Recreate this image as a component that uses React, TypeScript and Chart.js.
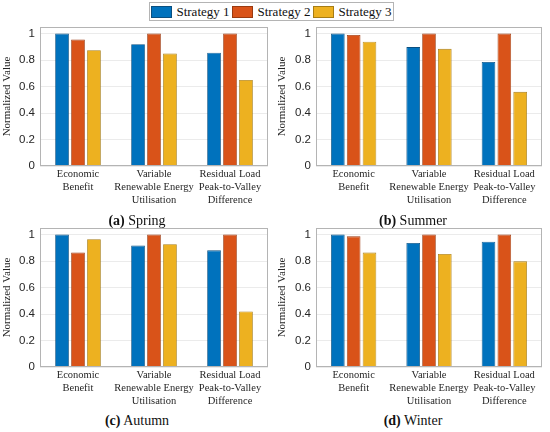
import { useEffect, useRef } from 'react';
import Chart from 'chart.js/auto';

const categories = [
  ['Economic', 'Benefit'],
  ['Variable', 'Renewable Energy', 'Utilisation'],
  ['Residual Load', 'Peak-to-Valley', 'Difference'],
];
const seriesNames = ['Strategy 1', 'Strategy 2', 'Strategy 3'];
const seriesColors = ['#0072BD', '#D95319', '#EDB120'];
const seriesEdges = ['#0a4f80', '#9a3a10', '#a67c14'];
const yTicks = [0, 0.2, 0.4, 0.6, 0.8, 1];

const springS1 = [1, 0.92, 0.856];
const springS2 = [0.955, 1, 1];
const springS3 = [0.874, 0.849, 0.65];

const summerS1 = [1, 0.898, 0.786];
const summerS2 = [0.99, 1, 1];
const summerS3 = [0.939, 0.885, 0.56];

const autumnS1 = [1, 0.917, 0.881];
const autumnS2 = [0.864, 1, 1];
const autumnS3 = [0.965, 0.927, 0.419];

const winterS1 = [1, 0.937, 0.947];
const winterS2 = [0.987, 1, 1];
const winterS3 = [0.864, 0.854, 0.798];

const SERIF = '"Liberation Serif", "Times New Roman", serif';
const SANS = '"Liberation Sans", Arial, sans-serif';

// draws the grey box round the plot area, MATLAB style
const framePlugin = {
  id: 'frame',
  afterDraw(chart: Chart) {
    const { ctx, chartArea } = chart;
    ctx.save();
    ctx.strokeStyle = '#b4b4b4';
    ctx.lineWidth = 1;
    ctx.strokeRect(
      Math.round(chartArea.left) + 0.5,
      Math.round(chartArea.top) + 0.5,
      Math.round(chartArea.right - chartArea.left) - 1,
      Math.round(chartArea.bottom - chartArea.top) - 1,
    );
    ctx.restore();
  },
};

type PanelProps = {
  values: number[][];
  left: number;
  top: number;
  axisWidth: number;
  padRight: number;
};

function Panel({ values, left, top, axisWidth, padRight }: PanelProps) {
  const canvasRef = useRef<HTMLCanvasElement>(null);

  useEffect(() => {
    const canvas = canvasRef.current;
    if (!canvas) return;
    const chart = new Chart(canvas, {
      type: 'bar',
      data: {
        labels: categories,
        datasets: values.map((v, i) => ({
          label: seriesNames[i],
          data: v,
          backgroundColor: seriesColors[i],
          borderColor: seriesEdges[i],
          borderWidth: 0.8,
          categoryPercentage: 0.63,
          barPercentage: 0.86,
        })),
      },
      options: {
        animation: false,
        responsive: true,
        maintainAspectRatio: false,
        layout: { padding: { top: 5, right: padRight, left: 0, bottom: 0 } },
        plugins: { legend: { display: false }, tooltip: { enabled: false } },
        scales: {
          x: {
            grid: { display: false, drawTicks: false },
            border: { display: false },
            ticks: {
              autoSkip: false,
              maxRotation: 0,
              padding: 2,
              color: '#262626',
              font: { family: SERIF, size: 10.5, lineHeight: 1.22 },
            },
            afterFit: (axis: any) => {
              axis.height = 42;
              axis.paddingLeft = 0;
              axis.paddingRight = 0;
            },
          },
          y: {
            min: 0,
            max: 1.05,
            afterBuildTicks: (axis: any) => {
              axis.ticks = yTicks.map((value) => ({ value }));
            },
            grid: { color: '#ebebeb', drawTicks: false },
            border: { display: false },
            ticks: {
              padding: 5,
              color: '#262626',
              font: { family: SANS, size: 11.5 },
              callback: (v: any) => String(Math.round(Number(v) * 10) / 10),
            },
            title: {
              display: true,
              text: 'Normalized Value',
              color: '#262626',
              padding: { top: 1, bottom: 0 },
              font: { family: SERIF, size: 11 },
            },
            afterFit: (axis: any) => {
              axis.width = axisWidth;
              axis.paddingTop = 0;
              axis.paddingBottom = 0;
            },
          },
        },
      },
      plugins: [framePlugin],
    });
    return () => chart.destroy();
  }, [values, axisWidth, padRight]);

  return (
    <div style={{ position: 'absolute', left, top, width: 275, height: 186 }}>
      <canvas ref={canvasRef} />
    </div>
  );
}

function Caption({ tag, name, x, y }: { tag: string; name: string; x: number; y: number }) {
  return (
    <div
      style={{
        position: 'absolute',
        left: x - 80,
        top: y - 9,
        width: 160,
        textAlign: 'center',
        fontFamily: SERIF,
        fontSize: 14,
        lineHeight: '18px',
        color: '#111',
      }}
    >
      <b>({tag})</b> {name}
    </div>
  );
}

function Legend() {
  return (
    <div
      style={{
        position: 'absolute',
        left: 149,
        top: 2,
        width: 245,
        height: 19,
        boxSizing: 'border-box',
        border: '1px solid #b4b4b4',
        background: '#fff',
        display: 'flex',
        alignItems: 'center',
        justifyContent: 'space-around',
        fontFamily: SERIF,
        fontSize: 13,
        color: '#111',
      }}
    >
      {seriesNames.map((name, i) => (
        <span key={name} style={{ display: 'flex', alignItems: 'center' }}>
          <span
            style={{
              display: 'inline-block',
              width: 19,
              height: 10,
              background: seriesColors[i],
              border: `1px solid ${seriesEdges[i]}`,
              marginRight: 4,
            }}
          />
          {name}
        </span>
      ))}
    </div>
  );
}

export default function App() {
  return (
    <div
      style={{
        position: 'fixed',
        left: 0,
        top: 0,
        width: 550,
        height: 432,
        background: '#fff',
        overflow: 'hidden',
      }}
    >
      <Panel values={[springS1, springS2, springS3]} left={0} top={22} axisWidth={40} padRight={7} />
      <Panel values={[summerS1, summerS2, summerS3]} left={275} top={22} axisWidth={41} padRight={8} />
      <Panel values={[autumnS1, autumnS2, autumnS3]} left={0} top={223} axisWidth={40} padRight={7} />
      <Panel values={[winterS1, winterS2, winterS3]} left={275} top={223} axisWidth={41} padRight={8} />
      <Legend />
      <Caption tag="a" name="Spring" x={137} y={221} />
      <Caption tag="b" name="Summer" x={413} y={221} />
      <Caption tag="c" name="Autumn" x={137} y={421} />
      <Caption tag="d" name="Winter" x={413} y={421} />
    </div>
  );
}
